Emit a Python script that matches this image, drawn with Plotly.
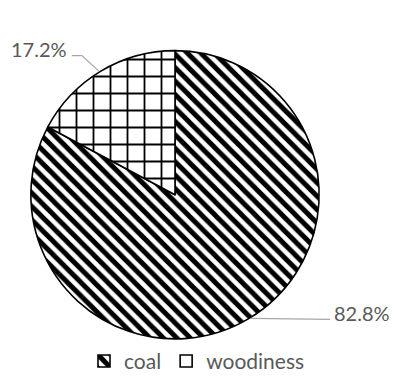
import math
import plotly.graph_objects as go

# ---- data ----
categories = ["coal", "woodiness"]
values = [82.8, 17.2]
label_texts = ["82.8%", "17.2%"]

# ---- layout constants ----
W, H = 394, 382
CX, CY, R = 175, 200, 148          # pie centre / radius in px
FONT = "Lato"
TXT = "#595959"
LINE = "#a6a6a6"


def px(x):
    return x / W


def py(y):
    return 1 - y / H


fig = go.Figure()
fig.add_trace(go.Pie(
    labels=categories,
    values=values,
    sort=False,
    direction="clockwise",
    rotation=0,
    textinfo="none",
    hoverinfo="label+percent",
    marker=dict(
        colors=["white", "white"],
        line=dict(color="black", width=1.6),
        pattern=dict(
            shape=["\\", "+"],
            fgcolor="black",
            bgcolor="white",
            size=[9.5, 17],
            solidity=[0.52, 0.2],
        ),
    ),
    domain=dict(x=[px(CX - R), px(CX + R)], y=[py(CY + R), py(CY - R)]),
    showlegend=True,
))

# leader lines + labels, derived from slice mid-angles
total = sum(values)
start = 90.0
shapes, annotations = [], []
cum = 0.0
for v, t in zip(values, label_texts):
    mid = start - (cum + v / 2) / total * 360.0
    cum += v
    ex = CX + R * math.cos(math.radians(mid))
    ey = CY - R * math.sin(math.radians(mid))
    if math.cos(math.radians(mid)) >= 0:
        lx, ly = ex + 79, ey + 1
        pts = [(ex, ey), (lx, ly)]
        annotations.append(dict(x=px(lx + 2), y=py(ly - 7), xref="paper", yref="paper",
                                text=t, showarrow=False, xanchor="left", yanchor="middle",
                                font=dict(family=FONT, size=20, color=TXT)))
    else:
        kx, ky = ex - 17, ey - 16
        lx = kx - 10
        pts = [(ex, ey), (kx, ky), (lx, ky)]
        annotations.append(dict(x=px(lx - 3), y=py(ky - 7), xref="paper", yref="paper",
                                text=t, showarrow=False, xanchor="right", yanchor="middle",
                                font=dict(family=FONT, size=20, color=TXT)))
    path = "M " + " L ".join(f"{px(a)},{py(b)}" for a, b in pts)
    shapes.append(dict(type="path", path=path, xref="paper", yref="paper",
                       line=dict(color=LINE, width=1.2)))

fig.update_layout(
    width=W, height=H,
    margin=dict(l=0, r=0, t=0, b=0),
    paper_bgcolor="white",
    plot_bgcolor="white",
    font=dict(family=FONT, color=TXT, size=21),
    shapes=shapes,
    annotations=annotations,
    legend=dict(
        orientation="h",
        x=0.5, xanchor="center",
        y=py(371), yanchor="middle",
        font=dict(family=FONT, size=21, color=TXT),
        itemwidth=30,
        bgcolor="rgba(0,0,0,0)",
    ),
)

fig.write_html("out.html")
